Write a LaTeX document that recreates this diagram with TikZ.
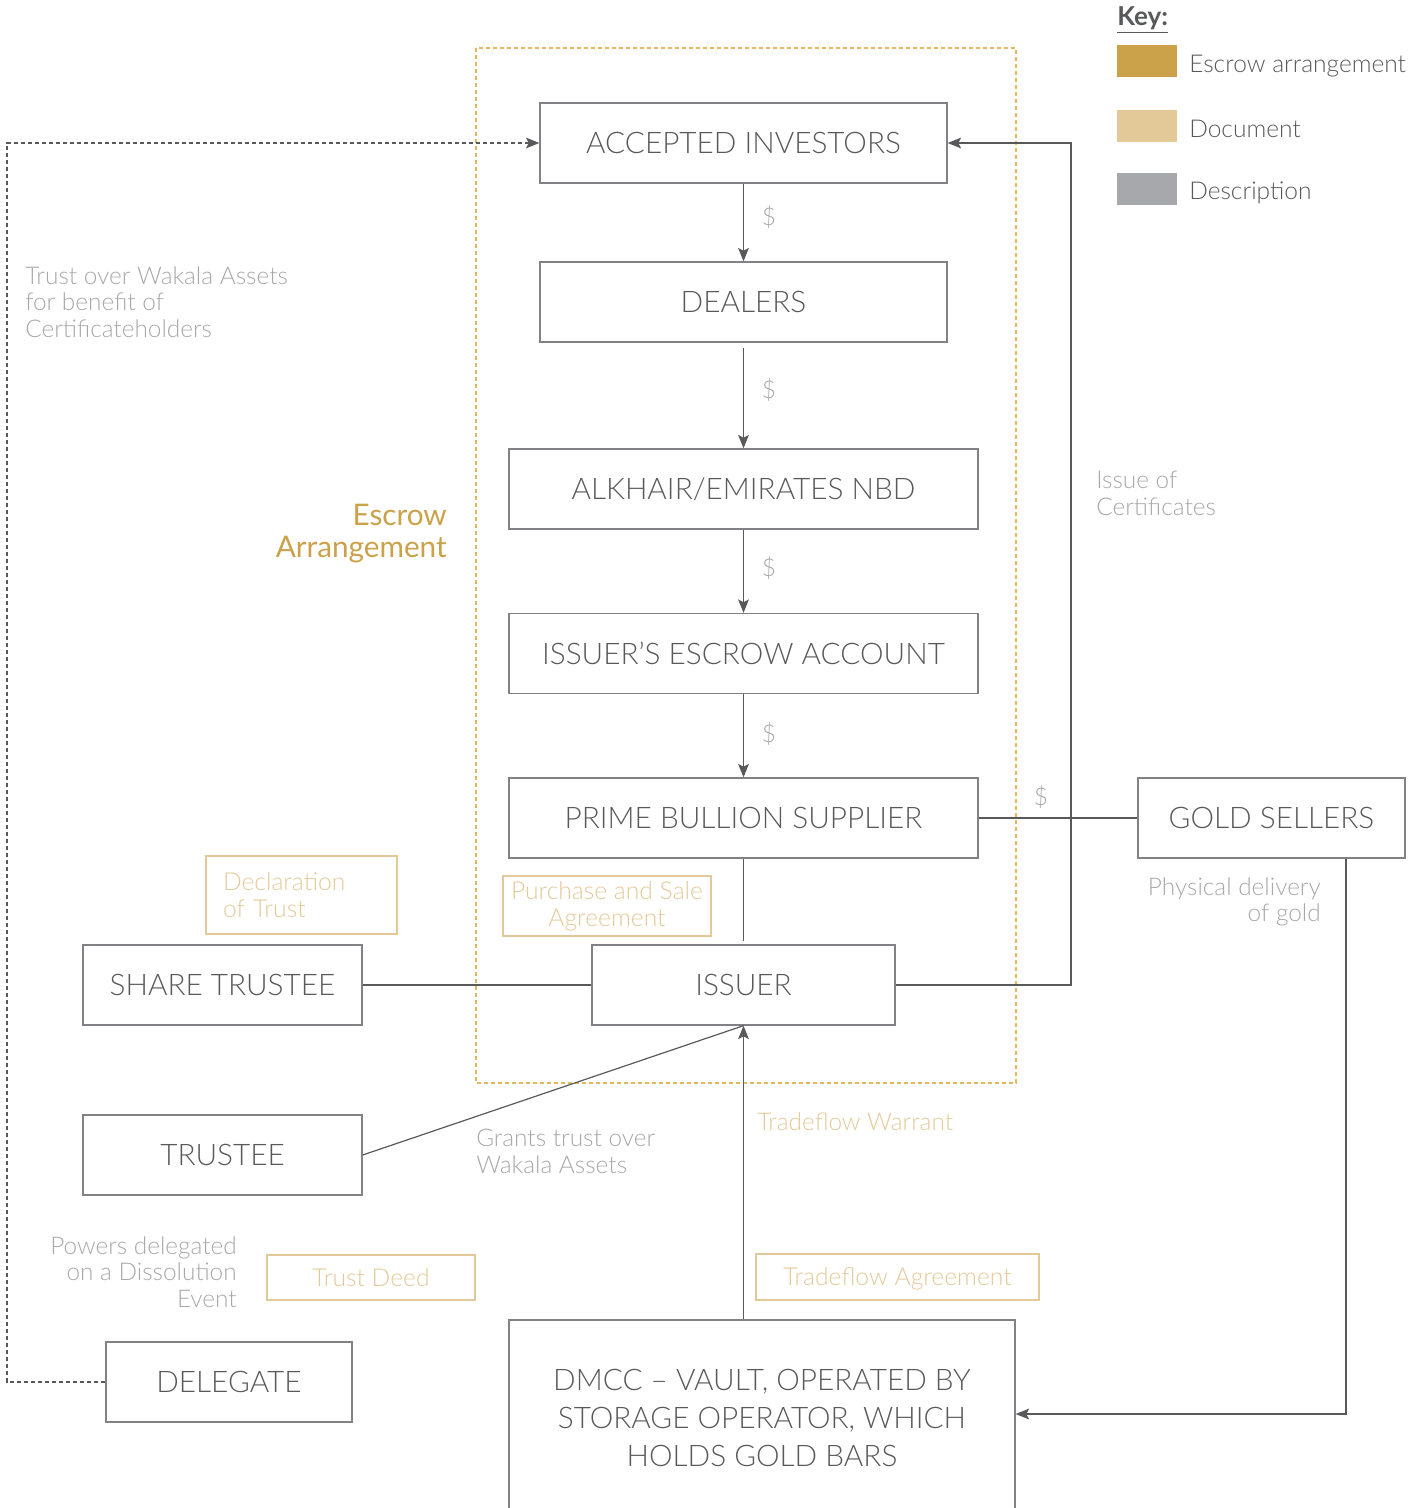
\documentclass[tikz,border=0pt]{standalone}
\usepackage{fontspec}
\setmainfont{Lato}[UprightFont=* Light, BoldFont=* Bold]
\newfontfamily\regfont{Lato}
\usetikzlibrary{arrows.meta,calc}
\definecolor{escrow}{HTML}{CBA24A}
\definecolor{docc}{HTML}{E3C998}
\definecolor{desc}{HTML}{A7A8AB}
\definecolor{ink}{HTML}{58595B}
\definecolor{edge}{HTML}{808285}
\definecolor{dashor}{HTML}{E6B65C}
\begin{document}
\begin{tikzpicture}[x=0.75pt,y=-0.75pt,
  ent/.style={draw=edge, line width=1pt, inner sep=0pt, text=ink, font=\fontsize{22.3}{28.5}\selectfont, align=center, minimum height=60pt},
  docbox/.style={draw=docc, line width=0.9pt, inner sep=0pt, text=docc, font=\fontsize{18.5}{20}\selectfont, align=center},
  desctext/.style={text=desc, font=\fontsize{18.3}{20}\selectfont, inner sep=0pt},
  dollar/.style={text=desc, font=\fontsize{18.3}{20}\selectfont, inner sep=0pt},
  keytext/.style={text=ink, font=\fontsize{18.4}{20}\selectfont, inner sep=0pt, anchor=west},
  flow/.style={draw=ink, line width=0.9pt},
  arr/.style={flow, -{Stealth[length=10pt,width=8pt,inset=2pt]}},
  darr/.style={arr, dash pattern=on 3pt off 2.25pt},
]
\useasboundingbox (0,0) rectangle (1425,1508);

% escrow region
\draw[dashor, line width=1pt, dash pattern=on 3pt off 2.25pt] (476,48) rectangle (1016,1083);

% key
\node[text=ink, font=\fontsize{19.5}{22}\bfseries, inner sep=0pt, anchor=west] (keyt) at (1117,20) {\underline{Key:}};
\fill[escrow] (1117,45) rectangle (1177,77);
\fill[docc] (1117,110) rectangle (1177,142);
\fill[desc] (1117,173) rectangle (1177,205);
\node[keytext] (k1) at (1189,66) {Escrow arrangement};
\node[keytext] (k2) at (1189,129) {Document};
\node[keytext] (k3) at (1189,193) {Description};

% entities
\node[ent, minimum width=305.25pt] (ai) at (743.5,143) {ACCEPTED INVESTORS};
\node[ent, minimum width=305.25pt] (dealers) at (743.5,302) {DEALERS};
\node[ent, minimum width=351.75pt] (alk) at (743.5,489) {ALKHAIR/EMIRATES NBD};
\node[ent, minimum width=351.75pt] (esc) at (743.5,653.5) {ISSUER’S ESCROW ACCOUNT};
\node[ent, minimum width=351.75pt] (pbs) at (743.5,818) {PRIME BULLION SUPPLIER};
\node[ent, minimum width=200.25pt] (gold) at (1271.5,818) {GOLD SELLERS};
\node[ent, minimum width=227.25pt] (issuer) at (743.5,985) {ISSUER};
\node[ent, minimum width=209.25pt] (share) at (222.5,985) {SHARE TRUSTEE};
\node[ent, minimum width=209.25pt] (trustee) at (222.5,1155) {TRUSTEE};
\node[ent, minimum width=184.5pt] (delegate) at (229,1382) {DELEGATE};
\node[ent, minimum width=379.5pt, minimum height=147pt] (dmcc) at (762,1418) {DMCC – VAULT, OPERATED BY\\STORAGE OPERATOR, WHICH\\HOLDS GOLD BARS};

% documents
\node[docbox, minimum width=143.25pt, minimum height=58.5pt, text width=117.75pt, inner xsep=12.75pt, align=left] (decl) at (301.5,895) {Declaration\\of Trust};
\node[docbox, minimum width=156pt, minimum height=45pt] (psa) at (607,906) {Purchase and Sale\\Agreement};
\node[docbox, minimum width=156pt, minimum height=33.75pt] (deed) at (371,1277.5) {Trust Deed};
\node[docbox, minimum width=212.25pt, minimum height=34.5pt, text depth=0pt] (tfa) at (897.5,1277) {Tradeflow Agreement};

% description texts
\node[desctext, anchor=north west, align=left] (twa) at (25,266) {Trust over Wakala Assets\\for benefit of\\Certificateholders};
\node[text=escrow, font=\regfont\fontsize{22.3}{24}\selectfont, inner sep=0pt, anchor=north east, align=right] (escl) at (447,504) {Escrow\\Arrangement};
\node[desctext, anchor=north west, align=left] (ioc) at (1096,471) {Issue of\\Certificates};
\node[desctext, anchor=north east, align=right] (phys) at (1321,877) {Physical delivery\\of gold};
\node[desctext, anchor=north west, align=left] (grant) at (476,1129) {Grants trust over\\Wakala Assets};
\node[desctext, text=docc, anchor=north west] (tfw) at (757,1112) {Tradeflow Warrant};
\node[desctext, anchor=north east, align=right] (pow) at (237,1236) {Powers delegated\\on a Dissolution\\Event};

% dollar labels
\node[dollar] (d1) at (769,217) {\$};
\node[dollar] (d2) at (769,390) {\$};
\node[dollar] (d3) at (769,568) {\$};
\node[dollar] (d4) at (769,734) {\$};
\node[dollar] (d5) at (1041,797) {\$};

% connectors
\draw[arr] (ai) -- (dealers);
\draw[arr] ($(dealers.south)+(0,5)$) -- (alk.north);
\draw[arr] (alk) -- (esc);
\draw[arr] (esc) -- (pbs);
\draw[flow] (pbs.east) -- (gold.west);
\draw[flow] (pbs.south) -- ($(issuer.north)+(0,-3)$);
\draw[flow] (share.east) -- (issuer.west);
\draw[flow] (trustee.east) -- (issuer.south);
\draw[arr] (dmcc.north -| issuer.south) -- (issuer.south);
\draw[flow] ($(trustee.south)+(35.5,0)$) -- ($(trustee.south)+(35.5,0)$ |- delegate.north);
\coordinate (rr) at (1071,985);
\draw[arr] (issuer.east) -- (rr) |- (ai.east);
\coordinate (ll) at (7,1382);
\draw[darr] (delegate.west) -- (ll) |- (ai.west);
\coordinate (gd) at (1346,1414);
\draw[arr] (gold.south -| gd) -- (gd) -- (gd -| dmcc.east);
\end{tikzpicture}
\end{document}
